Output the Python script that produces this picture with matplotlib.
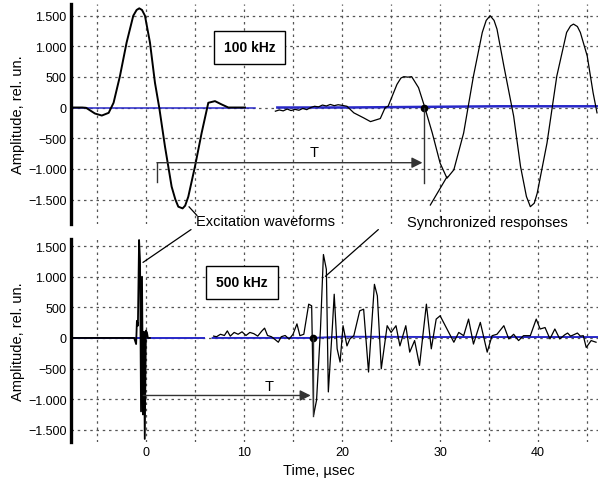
import matplotlib
matplotlib.use('Agg')
from matplotlib import pyplot as plt
from matplotlib.patches import ConnectionPatch
from matplotlib.ticker import FuncFormatter, MultipleLocator

plt.rcParams['font.family'] = ['Liberation Sans', 'DejaVu Sans']

# 100 kHz: excitation waveform
exc100_t = [-7.65, -6.5, -6.1, -5.2, -4.5, -3.8, -3.3, -2.65, -1.97, -1.29, -0.95, -0.68,
            -0.4, -0.1, 0.41, 0.92, 1.36, 1.94, 2.62, 3.0, 3.3, 3.74, 4.0, 4.32, 5.0, 5.68,
            6.36, 7.04, 7.72, 8.4, 10.1]
exc100_a = [0, 0, -5, -98, -131, -87, 77, 513, 1060, 1497, 1590, 1617,
            1590, 1497, 1060, 404, -5, -634, -1290, -1500, -1617, -1645, -1600, -1454, -962, -415,
            77, 104, 50, 0, 0]

# 100 kHz: response
resp100_t = [13.2, 13.6, 14.0, 14.4, 14.8, 15.2, 15.6, 16.0, 16.4, 16.8, 17.2, 17.6,
             18.0, 18.4, 18.8, 19.2, 19.6, 20.0, 20.5, 21.2, 22.2, 22.9, 23.9, 24.4,
             24.7, 25.6, 26.0, 26.3, 26.7, 27.1, 27.8, 28.4, 29.2, 30.0, 30.7, 31.4,
             32.4, 33.4, 34.3, 34.7, 35.1, 35.5, 35.8, 36.5, 37.5, 38.2, 38.8, 39.2,
             39.6, 39.9, 40.9, 41.9, 42.9, 43.3, 43.6, 44.0, 44.3, 45.0, 45.6, 46.0]
resp100_a = [-60, -40, -55, -25, -50, -30, -45, -15, -35, 0, 20, 10,
             40, 25, 50, 30, 45, 35, 20, -87, -169, -230, -180, 0,
             21, 377, 480, 503, 495, 503, 323, 21, -415, -907, -1153, -1016,
             -415, 513, 1224, 1420, 1497, 1420, 1278, 677, -142, -962, -1450, -1617,
             -1560, -1398, -579, 513, 1224, 1330, 1360, 1320, 1224, 841, 241, -87]

# 100 kHz: reference (blue) traces
ref100_left_t = [-7.65, 11.1]
ref100_left_a = [0, 0]
ref100_right_t = [13.4, 20.5, 36.0, 46.1]
ref100_right_a = [0, 0, 20, 20]

# 500 kHz: excitation waveform
exc500_t = [-7.65, -1.2, -1.0, -0.92, -0.82, -0.7, -0.6, -0.5, -0.4, -0.3, -0.2,
            -0.12, 0.0, 0.1, 0.2, 0.4]
exc500_a = [0, 0, -100, 280, 200, 1600, 1250, -1200, 1000, -1250, 100,
            -1650, 120, 90, 0, 0]

# 500 kHz: response
resp500_t = [6.9, 7.2, 7.6, 8.0, 8.3, 8.6, 9.0, 9.4, 9.8, 10.2, 10.6, 11.0, 11.4,
             11.8, 12.1, 12.4, 12.8, 13.2, 13.5, 13.8, 14.2, 14.6, 15.0, 15.4, 15.7,
             16.1, 16.6, 16.9, 17.1, 17.4, 17.8, 18.1, 18.4, 18.6, 19.0, 19.2, 19.5,
             19.8, 20.1, 20.5, 20.8, 21.2, 21.8, 22.2, 22.7, 23.3, 23.6, 24.0, 24.6,
             25.0, 25.5, 25.9, 26.5, 26.9, 27.4, 27.9, 28.6, 29.1, 29.6, 30.0, 30.7,
             31.4, 31.9, 32.4, 32.9, 33.4, 34.1, 34.8, 35.3, 35.8, 36.5, 37.0, 37.5,
             38.0, 38.5, 39.2, 39.8, 40.2, 40.7, 41.2, 41.7, 42.2, 42.7, 43.0, 43.3,
             43.6, 44.0, 44.3, 44.6, 44.9, 45.4, 45.9]
resp500_a = [30, 20, 60, 40, 115, 30, 90, 60, 100, 40, 90, 70, 30,
             110, 160, 40, 20, -30, -70, 20, 40, -20, 60, 230, 37,
             60, 552, 525, -1261, -1017, 146, 1363, 1120, -882, 146, 714, -178,
             -395, 200, -130, -16, 37, 443, 470, -557, 876, 687, -503, 200,
             90, 200, -130, 200, -232, -43, -449, 552, -178, 308, 362, 146,
             -70, 90, 37, 308, -100, 254, -232, 37, 60, 200, -16, 60,
             -43, 37, 37, 308, 146, 170, -16, 146, -16, 50, 80, 30,
             50, 80, 30, 37, -156, -43, -70]

# 500 kHz: reference (blue) traces
ref500_left_t = [-7.65, 5.9]
ref500_left_a = [0, 0]
ref500_right_t = [6.8, 17.0, 20.0, 30.0, 46.0]
ref500_right_a = [0, 0, 20, 15, 15]

x_labels = [0, 10, 20, 30, 40]
y_ticks = [-1500, -1000, -500, 0, 500, 1000, 1500]

blue = '#2828c8'
grid_kw = dict(color='#555555', linestyle=(0, (2, 3)), linewidth=0.9)


def amp_fmt(v, pos):
    s = f"{abs(v):,.0f}".replace(',', '.')
    return ('\u2212' + s) if v < 0 else s


fig = plt.figure(figsize=(6.01, 4.85), dpi=100)
ax1 = fig.add_axes([0.118, 0.536, 0.877, 0.454])
ax2 = fig.add_axes([0.118, 0.0866, 0.877, 0.419])

for ax in (ax1, ax2):
    ax.set_xlim(-7.65, 46.1)
    ax.xaxis.set_major_locator(MultipleLocator(5))
    ax.set_yticks(y_ticks)
    ax.yaxis.set_major_formatter(FuncFormatter(amp_fmt))
    ax.grid(True, **grid_kw)
    ax.set_axisbelow(True)
    for side in ('top', 'right', 'bottom'):
        ax.spines[side].set_visible(False)
    ax.spines['left'].set_linewidth(2.4)
    ax.tick_params(axis='both', length=0, labelsize=9, pad=3)
    ax.set_ylabel('Amplitude, rel. un.', fontsize=10.5, labelpad=2)

ax1.set_ylim(-1900, 1690)
ax2.set_ylim(-1700, 1620)
ax1.tick_params(axis='x', labelbottom=False)
ax2.xaxis.set_major_formatter(
    FuncFormatter(lambda v, pos: f"{v:.0f}" if round(v) in x_labels else ''))
ax2.set_xlabel('Time, \u00b5sec', fontsize=10.5)
ax2.xaxis.set_label_coords(0.47, -0.105)

# top panel
ax1.plot(ref100_left_t, ref100_left_a, color=blue, lw=1.1)
ax1.plot(ref100_right_t, ref100_right_a, color=blue, lw=1.8)
ax1.plot(exc100_t, exc100_a, color='black', lw=1.4)
ax1.plot(resp100_t, resp100_a, color='black', lw=0.9)
ax1.plot([28.4], [0], 'o', color='black', ms=4.5)
ax1.text(10.6, 980, '100 kHz', fontsize=10, fontweight='bold', ha='center', va='center',
         bbox=dict(boxstyle='square,pad=0.7', fc='white', ec='black', lw=1))
ax1.plot([1.12, 1.12], [-900, -1213], color='#333333', lw=1)
ax1.plot([28.4, 28.4], [0, -1230], color='#333333', lw=1)
ax1.annotate('', xy=(28.2, -900), xytext=(1.12, -900),
             arrowprops=dict(arrowstyle='-|>', color='#333333', lw=1, mutation_scale=16,
                             shrinkA=0, shrinkB=0))
ax1.text(17.2, -720, 'T', fontsize=10.5, ha='center', va='center')

# bottom panel
ax2.plot(ref500_left_t, ref500_left_a, color=blue, lw=1.4)
ax2.plot(ref500_right_t, ref500_right_a, color=blue, lw=1.4)
ax2.plot(exc500_t, exc500_a, color='black', lw=1.3)
ax2.plot(resp500_t, resp500_a, color='black', lw=0.9)
ax2.plot([17.0], [0], 'o', color='black', ms=4.5)
ax2.text(9.8, 910, '500 kHz', fontsize=10, fontweight='bold', ha='center', va='center',
         bbox=dict(boxstyle='square,pad=0.7', fc='white', ec='black', lw=1))
ax2.plot([17.0, 17.0], [0, -1280], color='#333333', lw=1)
ax2.annotate('', xy=(16.8, -940), xytext=(-0.27, -940),
             arrowprops=dict(arrowstyle='-|>', color='#333333', lw=1, mutation_scale=16,
                             shrinkA=0, shrinkB=0))
ax2.text(12.6, -780, 'T', fontsize=10.5, ha='center', va='center')

# captions with leader lines
ax1.text(5.1, -1852, 'Excitation waveforms', fontsize=10.5, ha='left', va='center',
         clip_on=False)
ax1.text(26.6, -1868, 'Synchronized responses', fontsize=10.5, ha='left', va='center',
         clip_on=False)
ax1.plot([4.4, 5.2], [-1620, -1760], color='black', lw=0.9, clip_on=False)
ax1.plot([30.7, 29.0], [-1130, -1590], color='black', lw=0.9, clip_on=False)
for xa, ya, xb, yb in [(-0.3, 1234, 4.6, -1990), (18.3, 1006, 23.7, -1990)]:
    con = ConnectionPatch(xyA=(xa, ya), coordsA=ax2.transData,
                          xyB=(xb, yb), coordsB=ax1.transData,
                          color='black', lw=0.9)
    fig.add_artist(con)

fig.savefig('out.png', dpi=100)
